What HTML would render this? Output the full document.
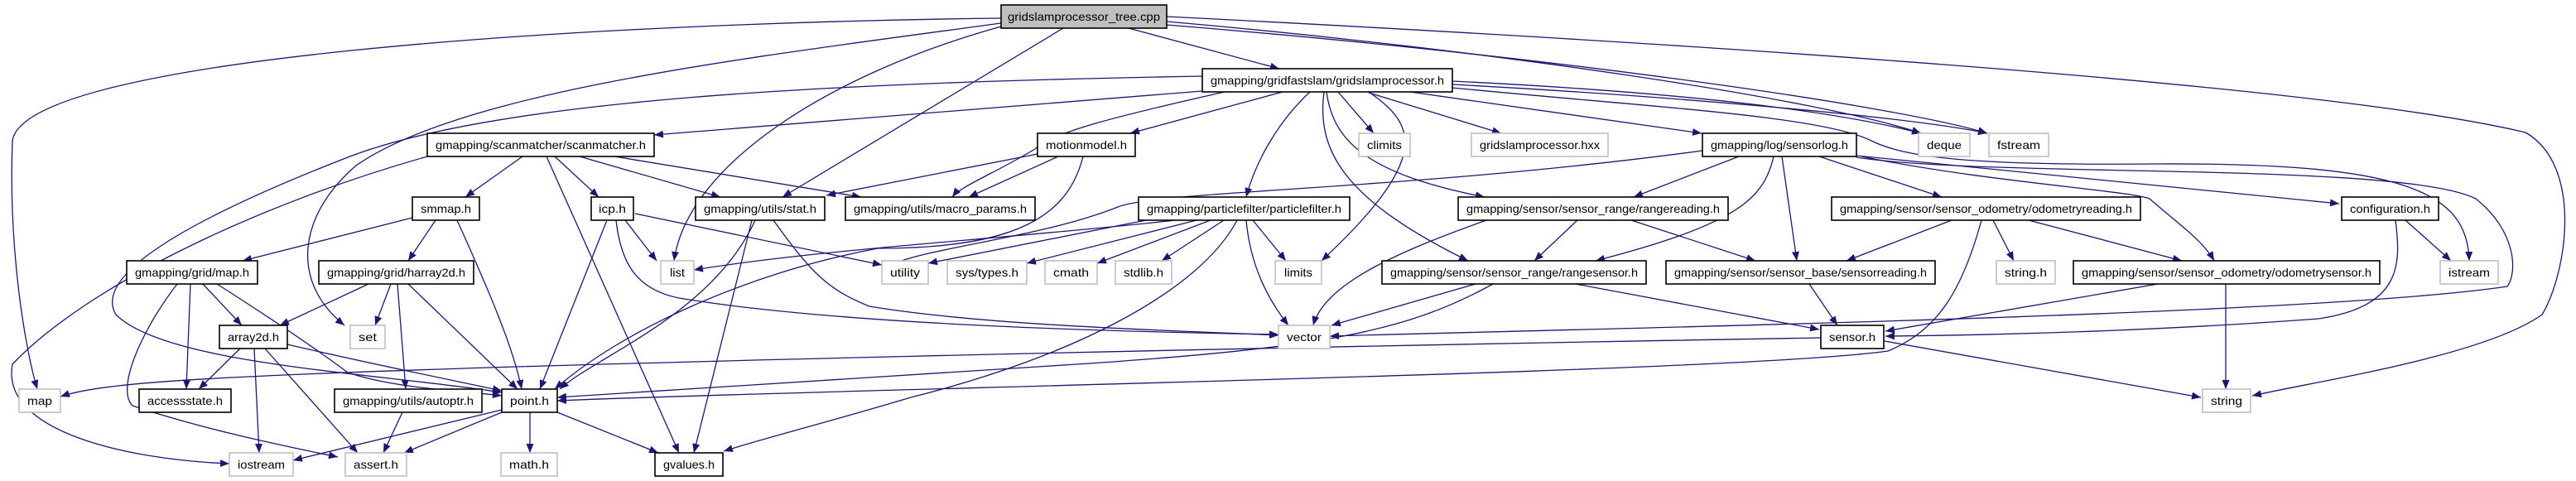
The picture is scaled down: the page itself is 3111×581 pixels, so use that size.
<!DOCTYPE html>
<html><head><meta charset="utf-8"><style>
html,body{margin:0;padding:0;background:#fff;}
svg{display:block;}
text{font-family:"Liberation Sans",sans-serif;font-size:14px;fill:#000;}
.n{fill:#fff;stroke:#000;stroke-width:1.6;}
.s{fill:#fff;stroke:#bfbfbf;stroke-width:1.6;}
.g{fill:#bfbfbf;stroke:#000;stroke-width:1.6;}
path.e{fill:none;stroke:#191970;stroke-width:1.3;marker-end:url(#a);}
</style></head><body>
<svg width="3111" height="581" viewBox="0 0 3111 581" xmlns="http://www.w3.org/2000/svg">
<defs><marker id="a" markerUnits="userSpaceOnUse" markerWidth="12" markerHeight="9" refX="11" refY="4.5" orient="auto"><path d="M0,0 L11,4.5 L0,9 z" fill="#191970"/></marker></defs>
<g>
<!-- tree -->
<path class="e" d="M1209,22 C700,28 30,70 15,170 C10,300 30,420 45,470"/>
<path class="e" d="M1209,28 C900,70 560,110 430,200 C360,260 350,340 416,393"/>
<path class="e" d="M1209,32 C1000,90 830,200 814,315"/>
<path class="e" d="M1284,34 L945,238"/>
<path class="e" d="M1363,34 L1545,83"/>
<path class="e" d="M1409,26 C1800,60 2200,120 2320,161"/>
<path class="e" d="M1409,30 C1900,70 2300,130 2400,161"/>
<path class="e" d="M1409,20 C2000,50 2800,100 3050,160 C3120,200 3100,330 3070,380 C3000,430 2800,460 2720,478"/>
<!-- gslam -->
<path class="e" d="M1452,110 L790,163"/>
<path class="e" d="M1452,92 C1000,100 600,120 420,190 C240,260 110,330 140,380 C200,440 450,450 606,474"/>
<path class="e" d="M1479,111 C1350,140 1270,160 1250,180 C1200,210 1160,225 1150,238"/>
<path class="e" d="M1549,111 L1365,161"/>
<path class="e" d="M1582,111 C1540,150 1515,200 1505,238"/>
<path class="e" d="M1599,111 C1590,180 1620,240 1773,315"/>
<path class="e" d="M1602,111 C1610,170 1650,210 1793,238"/>
<path class="e" d="M1616,111 L1659,161"/>
<path class="e" d="M1653,111 C1710,150 1730,190 1596,315"/>
<path class="e" d="M1653,112 L1813,161"/>
<path class="e" d="M1703,111 L2055,161"/>
<path class="e" d="M1754,98 C2000,110 2200,130 2320,161"/>
<path class="e" d="M1754,102 C2000,115 2300,140 2400,161"/>
<path class="e" d="M1754,106 C2000,130 2200,140 2260,170 C2300,190 2380,200 2600,198 C2900,196 2980,230 2982,315"/>
<!-- sensorlog -->
<path class="e" d="M2056,182 C1700,230 1400,230 1350,250 C1250,290 1100,300 1065,326"/>
<path class="e" d="M2100,189 L1973,238"/>
<path class="e" d="M2142,189 C2130,240 2100,270 1927,315"/>
<path class="e" d="M2152,189 L2170,315"/>
<path class="e" d="M2197,189 L2345,238"/>
<path class="e" d="M2248,189 C2400,220 2570,230 2596,240 C2630,270 2660,290 2674,315"/>
<path class="e" d="M2242,188 L2825,246"/>
<path class="e" d="M2242,190 C2400,215 2900,195 2990,240 C3040,280 3040,330 3028,346 C2800,380 2000,395 1606,406"/>
<!-- rr -->
<path class="e" d="M1905,266 L1853,315"/>
<path class="e" d="M1970,266 L2120,315"/>
<path class="e" d="M1795,266 C1700,300 1600,340 1586,393"/>
<!-- rs -->
<path class="e" d="M1782,343 L1608,393"/>
<path class="e" d="M1903,343 L2197,398"/>
<path class="e" d="M1803,343 C1700,400 1600,420 1300,440 C1000,460 800,470 673,480"/>
<!-- odr -->
<path class="e" d="M2357,266 L2230,315"/>
<path class="e" d="M2407,266 L2432,315"/>
<path class="e" d="M2450,266 L2635,315"/>
<path class="e" d="M2393,266 C2370,350 2340,400 2280,424 C2100,450 1000,470 673,484"/>
<!-- ods -->
<path class="e" d="M2606,343 L2277,400"/>
<path class="e" d="M2688,343 L2688,470"/>
<!-- config -->
<path class="e" d="M2905,266 L2960,315"/>
<path class="e" d="M2893,266 C2900,320 2900,370 2800,385 C2600,400 2400,405 2277,406"/>
<!-- sensor -->
<path class="e" d="M2276,412 L2658,480"/>
<path class="e" d="M2199,408 C1500,420 600,440 300,455 C150,462 100,470 73,479"/>
<path class="e" d="M2185,343 L2219,393"/>
<!-- pf -->
<path class="e" d="M1384,266 L1121,318"/>
<path class="e" d="M1445,266 L1240,318"/>
<path class="e" d="M1462,266 L1325,318"/>
<path class="e" d="M1478,266 L1403,315"/>
<path class="e" d="M1513,266 L1553,315"/>
<path class="e" d="M1505,266 C1510,320 1530,360 1556,393"/>
<path class="e" d="M1494,266 C1450,350 1300,430 1100,480 C1000,510 920,530 874,545"/>
<path class="e" d="M1420,266 C1200,290 1000,300 838,326"/>
<!-- motion -->
<path class="e" d="M1308,189 C1290,260 1230,300 1060,300 C900,330 750,400 670,470"/>
<path class="e" d="M1253,186 L998,236"/>
<path class="e" d="M1278,189 L1170,238"/>
<!-- stat -->
<path class="e" d="M912,266 C860,380 720,430 676,470"/>
<path class="e" d="M908,266 L838,547"/>
<path class="e" d="M934,266 C980,330 1000,350 1050,370 C1200,395 1450,400 1544,405"/>
<!-- scanm -->
<path class="e" d="M631,189 L562,238"/>
<path class="e" d="M670,189 L723,238"/>
<path class="e" d="M700,189 L870,238"/>
<path class="e" d="M742,189 L1040,238"/>
<path class="e" d="M660,189 L820,547"/>
<path class="e" d="M516,189 C300,250 100,350 15,440 C0,520 150,555 277,560"/>
<!-- smmap -->
<path class="e" d="M498,263 L293,315"/>
<path class="e" d="M526,266 L493,315"/>
<path class="e" d="M552,266 C590,350 620,420 630,470"/>
<!-- icp -->
<path class="e" d="M755,266 L793,315"/>
<path class="e" d="M733,266 L652,470"/>
<path class="e" d="M744,266 C750,320 770,350 820,360 C1000,390 1300,400 1544,404"/>
<path class="e" d="M767,258 L1065,320"/>
<!-- mapH -->
<path class="e" d="M245,343 L292,393"/>
<path class="e" d="M230,343 L225,470"/>
<path class="e" d="M262,343 C320,380 380,420 420,450 C480,470 560,472 606,478"/>
<path class="e" d="M214,343 C170,400 140,470 160,490 C250,520 350,540 408,552"/>
<!-- harr -->
<path class="e" d="M445,343 L338,393"/>
<path class="e" d="M472,343 L453,393"/>
<path class="e" d="M480,343 L490,470"/>
<path class="e" d="M493,343 L625,470"/>
<!-- array2d -->
<path class="e" d="M290,421 L240,470"/>
<path class="e" d="M307,421 L313,547"/>
<path class="e" d="M320,421 L432,547"/>
<path class="e" d="M347,416 C450,440 550,460 606,472"/>
<!-- autoptr / point -->
<path class="e" d="M486,498 L463,547"/>
<path class="e" d="M606,495 L354,556"/>
<path class="e" d="M606,498 L488,547"/>
<path class="e" d="M640,498 L640,547"/>
<path class="e" d="M673,498 L795,547"/>
</g>
<g>
<rect class="g" x="1209" y="6" width="200" height="28"/><text x="1217" y="25" textLength="184" lengthAdjust="spacingAndGlyphs">gridslamprocessor_tree.cpp</text>
<rect class="n" x="1452" y="83" width="302" height="28"/><text x="1462" y="102" textLength="282" lengthAdjust="spacingAndGlyphs">gmapping/gridfastslam/gridslamprocessor.h</text>
<rect class="n" x="516" y="161" width="274" height="28"/><text x="526" y="180" textLength="254" lengthAdjust="spacingAndGlyphs">gmapping/scanmatcher/scanmatcher.h</text>
<rect class="n" x="1253" y="161" width="118" height="28"/><text x="1263" y="180" textLength="98" lengthAdjust="spacingAndGlyphs">motionmodel.h</text>
<rect class="s" x="1641" y="161" width="62" height="28"/><text x="1651" y="180" textLength="42" lengthAdjust="spacingAndGlyphs">climits</text>
<rect class="s" x="1777" y="161" width="165" height="28"/><text x="1787" y="180" textLength="145" lengthAdjust="spacingAndGlyphs">gridslamprocessor.hxx</text>
<rect class="n" x="2056" y="161" width="186" height="28"/><text x="2066" y="180" textLength="166" lengthAdjust="spacingAndGlyphs">gmapping/log/sensorlog.h</text>
<rect class="s" x="2317" y="161" width="62" height="28"/><text x="2327" y="180" textLength="42" lengthAdjust="spacingAndGlyphs">deque</text>
<rect class="s" x="2402" y="161" width="72" height="28"/><text x="2412" y="180" textLength="52" lengthAdjust="spacingAndGlyphs">fstream</text>
<rect class="n" x="498" y="238" width="81" height="28"/><text x="508" y="257" textLength="61" lengthAdjust="spacingAndGlyphs">smmap.h</text>
<rect class="n" x="714" y="238" width="51" height="28"/><text x="723" y="257" textLength="33" lengthAdjust="spacingAndGlyphs">icp.h</text>
<rect class="n" x="840" y="238" width="156" height="28"/><text x="850" y="257" textLength="136" lengthAdjust="spacingAndGlyphs">gmapping/utils/stat.h</text>
<rect class="n" x="1021" y="238" width="229" height="28"/><text x="1031" y="257" textLength="209" lengthAdjust="spacingAndGlyphs">gmapping/utils/macro_params.h</text>
<rect class="n" x="1375" y="238" width="255" height="28"/><text x="1385" y="257" textLength="235" lengthAdjust="spacingAndGlyphs">gmapping/particlefilter/particlefilter.h</text>
<rect class="n" x="1761" y="238" width="326" height="28"/><text x="1771" y="257" textLength="306" lengthAdjust="spacingAndGlyphs">gmapping/sensor/sensor_range/rangereading.h</text>
<rect class="n" x="2212" y="238" width="373" height="28"/><text x="2222" y="257" textLength="353" lengthAdjust="spacingAndGlyphs">gmapping/sensor/sensor_odometry/odometryreading.h</text>
<rect class="n" x="2828" y="238" width="117" height="28"/><text x="2838" y="257" textLength="97" lengthAdjust="spacingAndGlyphs">configuration.h</text>
<rect class="n" x="153" y="315" width="158" height="28"/><text x="163" y="334" textLength="138" lengthAdjust="spacingAndGlyphs">gmapping/grid/map.h</text>
<rect class="n" x="385" y="315" width="187" height="28"/><text x="395" y="334" textLength="167" lengthAdjust="spacingAndGlyphs">gmapping/grid/harray2d.h</text>
<rect class="s" x="798" y="315" width="40" height="28"/><text x="809" y="334" textLength="18" lengthAdjust="spacingAndGlyphs">list</text>
<rect class="s" x="1065" y="315" width="56" height="28"/><text x="1075" y="334" textLength="36" lengthAdjust="spacingAndGlyphs">utility</text>
<rect class="s" x="1144" y="315" width="96" height="28"/><text x="1154" y="334" textLength="76" lengthAdjust="spacingAndGlyphs">sys/types.h</text>
<rect class="s" x="1262" y="315" width="63" height="28"/><text x="1272" y="334" textLength="43" lengthAdjust="spacingAndGlyphs">cmath</text>
<rect class="s" x="1347" y="315" width="68" height="28"/><text x="1357" y="334" textLength="48" lengthAdjust="spacingAndGlyphs">stdlib.h</text>
<rect class="s" x="1540" y="315" width="56" height="28"/><text x="1551" y="334" textLength="34" lengthAdjust="spacingAndGlyphs">limits</text>
<rect class="n" x="1669" y="315" width="319" height="28"/><text x="1679" y="334" textLength="299" lengthAdjust="spacingAndGlyphs">gmapping/sensor/sensor_range/rangesensor.h</text>
<rect class="n" x="2012" y="315" width="325" height="28"/><text x="2022" y="334" textLength="305" lengthAdjust="spacingAndGlyphs">gmapping/sensor/sensor_base/sensorreading.h</text>
<rect class="s" x="2411" y="315" width="71" height="28"/><text x="2421" y="334" textLength="51" lengthAdjust="spacingAndGlyphs">string.h</text>
<rect class="n" x="2504" y="315" width="370" height="28"/><text x="2514" y="334" textLength="350" lengthAdjust="spacingAndGlyphs">gmapping/sensor/sensor_odometry/odometrysensor.h</text>
<rect class="s" x="2947" y="315" width="70" height="28"/><text x="2957" y="334" textLength="50" lengthAdjust="spacingAndGlyphs">istream</text>
<rect class="n" x="265" y="393" width="82" height="28"/><text x="275" y="412" textLength="62" lengthAdjust="spacingAndGlyphs">array2d.h</text>
<rect class="s" x="423" y="393" width="42" height="28"/><text x="433" y="412" textLength="22" lengthAdjust="spacingAndGlyphs">set</text>
<rect class="s" x="1544" y="393" width="62" height="28"/><text x="1554" y="412" textLength="42" lengthAdjust="spacingAndGlyphs">vector</text>
<rect class="n" x="2199" y="393" width="76" height="28"/><text x="2209" y="412" textLength="56" lengthAdjust="spacingAndGlyphs">sensor.h</text>
<rect class="s" x="23" y="470" width="50" height="28"/><text x="33" y="489" textLength="30" lengthAdjust="spacingAndGlyphs">map</text>
<rect class="n" x="168" y="470" width="111" height="28"/><text x="178" y="489" textLength="91" lengthAdjust="spacingAndGlyphs">accessstate.h</text>
<rect class="n" x="404" y="470" width="178" height="28"/><text x="414" y="489" textLength="158" lengthAdjust="spacingAndGlyphs">gmapping/utils/autoptr.h</text>
<rect class="n" x="606" y="470" width="67" height="28"/><text x="616" y="489" textLength="47" lengthAdjust="spacingAndGlyphs">point.h</text>
<rect class="s" x="2660" y="470" width="58" height="28"/><text x="2670" y="489" textLength="38" lengthAdjust="spacingAndGlyphs">string</text>
<rect class="s" x="277" y="547" width="77" height="28"/><text x="287" y="566" textLength="57" lengthAdjust="spacingAndGlyphs">iostream</text>
<rect class="s" x="417" y="547" width="74" height="28"/><text x="427" y="566" textLength="54" lengthAdjust="spacingAndGlyphs">assert.h</text>
<rect class="s" x="605" y="547" width="68" height="28"/><text x="615" y="566" textLength="48" lengthAdjust="spacingAndGlyphs">math.h</text>
<rect class="n" x="791" y="547" width="82" height="28"/><text x="801" y="566" textLength="62" lengthAdjust="spacingAndGlyphs">gvalues.h</text>
</g>
</svg>
</body></html>
